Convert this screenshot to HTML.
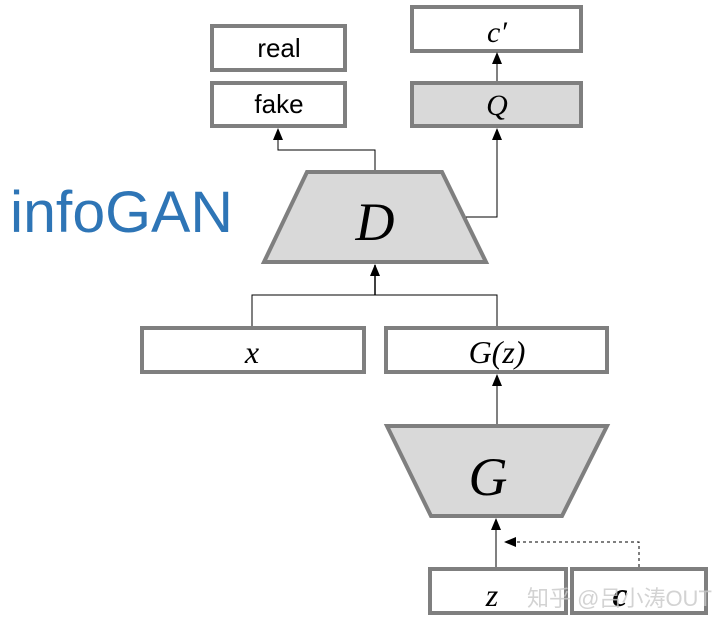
<!DOCTYPE html>
<html><head><meta charset="utf-8"><style>
html,body{margin:0;padding:0;background:#fff;width:720px;height:624px;overflow:hidden}
</style></head><body>
<svg width="720" height="624" xmlns="http://www.w3.org/2000/svg">
<defs>
<marker id="a" markerWidth="12" markerHeight="10" refX="11" refY="5" orient="auto" markerUnits="userSpaceOnUse" viewBox="0 0 12 10">
<path d="M0,0 L12,5 L0,10 z" fill="#000"/></marker>
</defs>
<g stroke="#7f7f7f" stroke-width="4">
<rect x="212" y="26" width="133" height="44" fill="#fff"/>
<rect x="212" y="83" width="133" height="43" fill="#fff"/>
<rect x="412" y="7" width="169" height="44" fill="#fff"/>
<rect x="412" y="83" width="169" height="43" fill="#d9d9d9"/>
<polygon points="307,172 442,172 486,262 264,262" fill="#d9d9d9"/>
<rect x="142" y="328" width="222" height="44" fill="#fff"/>
<rect x="386" y="328" width="221" height="44" fill="#fff"/>
<polygon points="387,426 607,426 562,516 431,516" fill="#d9d9d9"/>
<rect x="430" y="569" width="136" height="44" fill="#fff"/>
<rect x="572" y="569" width="134" height="44" fill="#fff"/>
</g>
<g stroke="#000" stroke-width="1" fill="none">
<polyline points="375,170 375,150 278,150 278,129" marker-end="url(#a)"/>
<polyline points="466,217 497,217 497,129" marker-end="url(#a)"/>
<line x1="497" y1="81" x2="497" y2="53" marker-end="url(#a)"/>
<polyline points="252,326 252,295 497,295 497,326"/>
<line x1="375" y1="295" x2="375" y2="265" stroke-width="1.5" marker-end="url(#a)"/>
<line x1="497" y1="424" x2="497" y2="375" marker-end="url(#a)"/>
<line x1="496" y1="567" x2="496" y2="519" marker-end="url(#a)"/>
<polyline points="639,567 639,542 505,542" stroke-dasharray="3,3" marker-end="url(#a)"/>
</g>
<g font-family="Liberation Sans, sans-serif" font-size="26" text-anchor="middle" fill="#000">
<text x="279" y="57">real</text>
<text x="279" y="113">fake</text>
</g>
<g font-family="Liberation Serif, serif" font-style="italic" text-anchor="middle" fill="#000">
<text x="497" y="42" font-size="30">c′</text>
<text x="497" y="115" font-size="30">Q</text>
<text x="375" y="240" font-size="54">D</text>
<text x="252" y="363" font-size="32">x</text>
<text x="497" y="363" font-size="32">G(z)</text>
<text x="488" y="495" font-size="54">G</text>
<text x="492" y="606" font-size="32">z</text>
<text x="620" y="606" font-size="34" font-weight="bold">c</text>
</g>
<text x="10" y="232" font-family="Liberation Sans, sans-serif" font-size="58" textLength="223" lengthAdjust="spacingAndGlyphs" fill="#2e75b6">infoGAN</text>
<text x="527" y="606" font-family="Liberation Sans, 'Noto Sans CJK SC', sans-serif" font-size="22" fill="#c8c8c8" fill-opacity="0.8">知乎 @吕小涛OUT</text>
</svg>
</body></html>
